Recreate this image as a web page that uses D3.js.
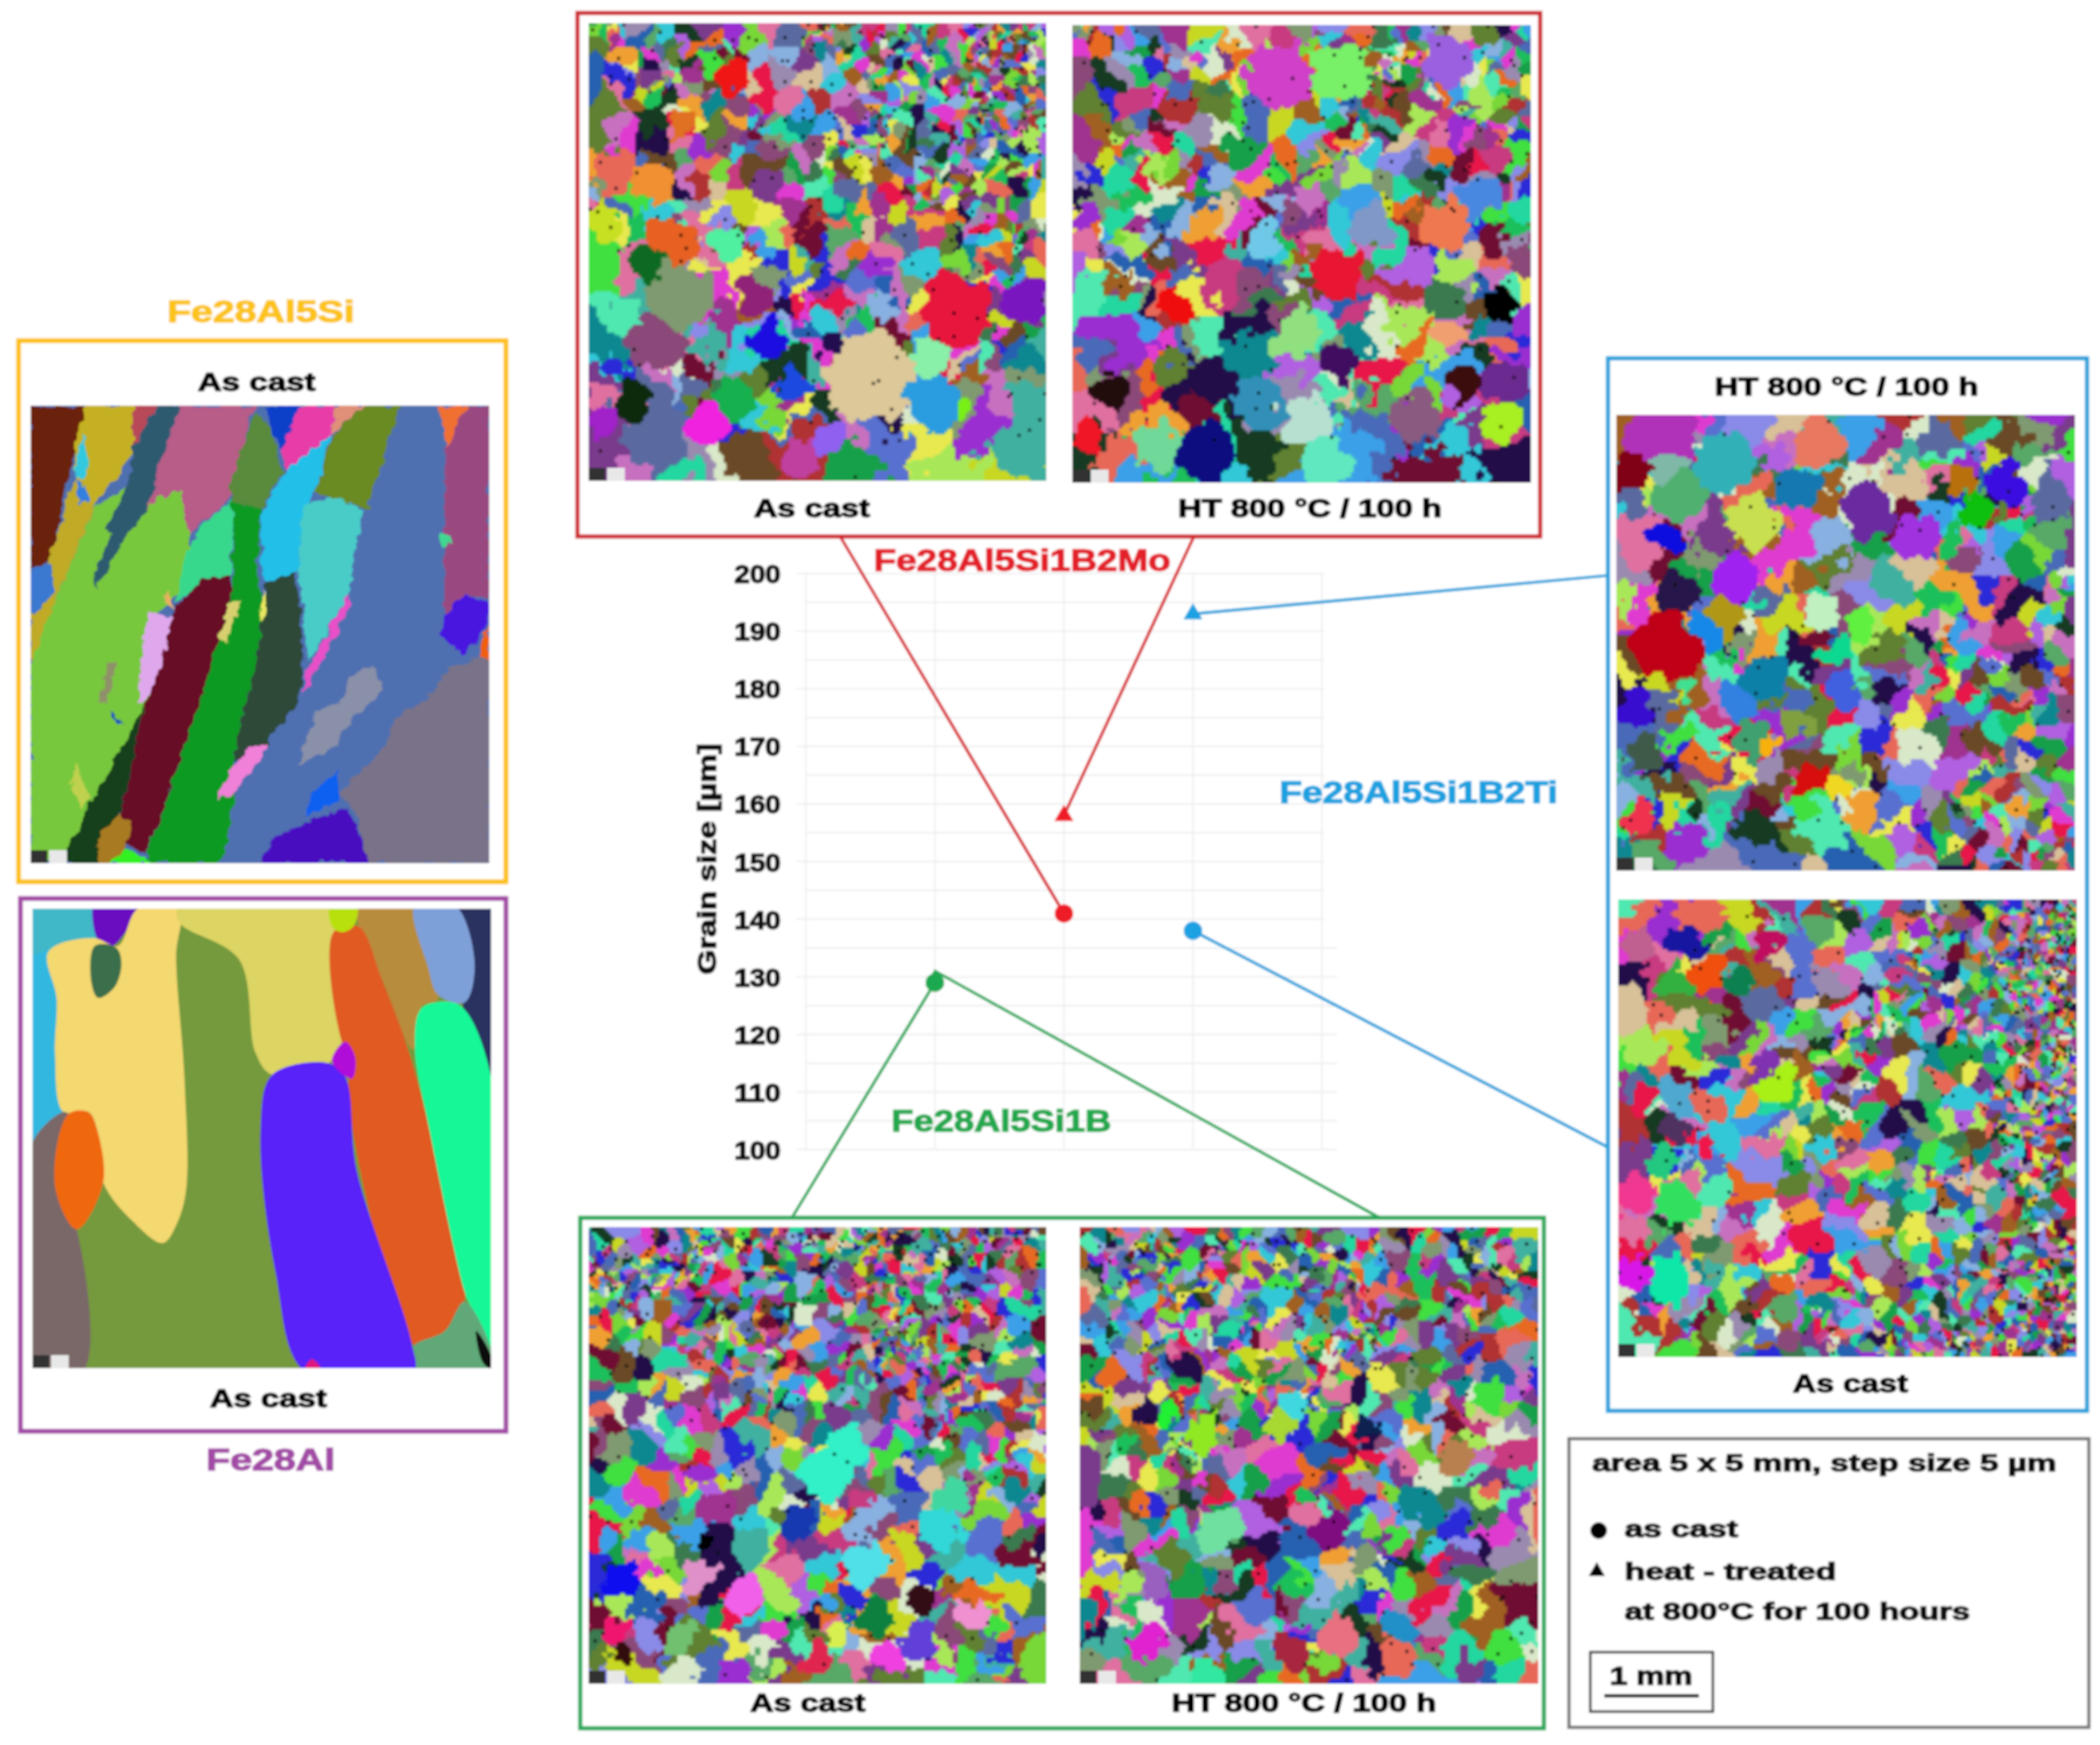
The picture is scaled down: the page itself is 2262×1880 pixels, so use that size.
<!DOCTYPE html>
<html><head><meta charset="utf-8">
<script src="https://cdn.jsdelivr.net/npm/d3@7"></script>
<style>html,body{margin:0;padding:0;background:#fff}svg{display:block}text{font-family:"Liberation Sans",Arial,sans-serif;font-weight:700;stroke-width:1.2px}</style>
</head><body><div id="c"></div>
<script>
// ---------- chart data ----------
const categories = ["", "Fe28Al5Si1B", "Fe28Al5Si1B2Mo", "Fe28Al5Si1B2Ti", ""];
const seriesNames = ["Fe28Al5Si1B", "Fe28Al5Si1B2Mo", "Fe28Al5Si1B2Ti"];
const seriesColors = ["#1fa84f", "#ee1c25", "#1ba1e2"];
const asCastValues = [129, 141, 138];
const heatTreatedValues = [129.5, 158, 193];
const yTicks = [100,110,120,130,140,150,160,170,180,190,200];
const yGrid = [105,115,125,135,145,155,165,175,185,195];

// ---------- grain size fields: typical grain diameter (fraction of map) on a 4x4 grid, read from each map ----------
const sizeMoCast = [[.034,.03,.022,.016],[.05,.035,.025,.02],[.08,.065,.05,.032],[.085,.08,.09,.06]];
const sizeMoHT   = [[.022,.035,.035,.024],[.045,.045,.04,.032],[.065,.065,.06,.055],[.08,.085,.085,.08]];
const sizeBCast  = [[.018,.018,.018,.018],[.028,.028,.026,.024],[.042,.045,.042,.042],[.055,.06,.06,.055]];
const sizeBHT    = [[.022,.022,.022,.022],[.03,.032,.032,.03],[.04,.042,.042,.04],[.05,.055,.055,.05]];
const sizeTiHT   = [[.08,.08,.06,.04],[.08,.07,.05,.035],[.08,.06,.042,.032],[.07,.055,.036,.026]];
const sizeTiCast = [[.06,.045,.03,.01],[.06,.04,.03,.012],[.06,.045,.034,.02],[.05,.038,.02,.009]];

// ---------- recognisable large grains per map: [u, v, radius, colour] ----------
const grainsMoCast = [[.616,.773,.1,"#dcc898"],[.801,.626,.08,"#e8143c"],[.39,.692,.045,"#1a10e0"],[.451,.788,.035,"#1a4ae0"],[.746,.729,.045,"#88f0a8"],[.746,.832,.06,"#2a9ce0"],[.198,.596,.07,"#7f9a70"],[.142,.70,.055,"#8a4a78"],[.15,.906,.07,"#5a6aa0"],[.10,.825,.045,"#0a2a10"],[.266,.877,.05,"#f020e0"],[.314,.825,.045,"#14b050"],[.184,.478,.05,"#e86020"],[.132,.522,.04,"#0e6a20"],[.143,.345,.045,"#f09030"],[.036,.441,.04,"#c8e020"],[.30,.485,.035,"#50f0a0"],[.952,.604,.05,"#7a18c0"],[.534,.70,.03,"#201050"],[.314,.117,.035,"#f01818"],[.033,.862,.04,"#a020c8"],[.812,.843,.03,"#78f018"],[.37,.59,.04,"#902078"],[.47,.95,.05,"#c040a0"],[.53,.90,.04,"#9060f0"],[.20,.22,.025,"#e07020"]];
const grainsMoHT = [[.455,.112,.075,"#d040c8"],[.585,.105,.07,"#78f068"],[.817,.075,.055,"#9a60e0"],[.287,.931,.065,"#0a0a80"],[.407,.813,.06,"#3090b8"],[.575,.533,.055,"#e81830"],[.222,.614,.04,"#f01010"],[.94,.621,.04,"#050505"],[.862,.784,.04,"#3a0810"],[.817,.437,.055,"#f07850"],[.414,.466,.04,"#70c8e8"],[.516,.865,.06,"#b8e0d0"],[.55,.961,.06,"#60e8c0"],[.188,.924,.05,"#70d898"],[.489,.673,.055,"#90e080"],[.585,.739,.04,"#401060"],[.756,.858,.055,"#8a5a80"],[.94,.872,.045,"#a8f020"],[.085,.806,.035,"#200810"],[.044,.90,.035,"#f01828"],[.886,.378,.045,"#4a88e0"],[.817,.666,.035,"#f0a070"],[.653,.437,.05,"#7f98c8"],[.947,.776,.05,"#6a2a90"]];
const grainsBCast = [[.52,.54,.06,"#30f0c8"],[.568,.473,.045,"#30f0c8"],[.07,.776,.04,"#1010f0"],[.602,.739,.05,"#50e0e8"],[.719,.82,.035,"#300818"],[.623,.85,.04,"#0a8040"],[.249,.684,.018,"#000000"],[.767,.665,.045,"#30d8d8"],[.794,.599,.04,"#40d8a0"],[.657,.939,.04,"#f040e0"],[.726,.902,.04,"#6040d8"],[.547,.894,.03,"#d8f050"],[.835,.85,.035,"#f090d0"],[.342,.806,.04,"#f060e8"],[.246,.761,.035,"#e090c8"],[.465,.643,.04,"#1838b0"],[.50,.946,.035,"#e02850"],[.054,.887,.03,"#f01870"],[.074,.939,.03,"#301008"],[.198,.894,.035,"#70c070"]];
const grainsBHT = [[.187,.414,.025,"#20f030"],[.269,.451,.04,"#90e820"],[.31,.658,.05,"#70e0a0"],[.159,.783,.04,"#9a60c0"],[.467,.931,.04,"#a82840"],[.556,.894,.04,"#e87080"],[.283,.983,.04,"#30e8a0"],[.153,.916,.04,"#e020d0"],[.543,.665,.04,"#800880"],[.44,.429,.03,"#a8d830"],[.461,.392,.03,"#40d8e0"],[.625,.443,.03,"#102050"],[.82,.503,.035,"#b88050"],[.70,.879,.04,"#2090c8"]];
const grainsTiHT = [[.097,.05,.08,"#b030b8"],[.237,.103,.07,"#30b0b8"],[.139,.172,.06,"#50b070"],[.11,.103,.05,"#80b8a8"],[.027,.119,.05,"#800018"],[.447,.057,.06,"#e87860"],[.30,.234,.055,"#c8e050"],[.398,.165,.05,"#1878b0"],[.552,.211,.06,"#6a2aa0"],[.657,.272,.05,"#a030e0"],[.132,.395,.05,"#281848"],[.104,.51,.07,"#c00018"],[.258,.364,.06,"#a020f0"],[.11,.272,.035,"#0808e0"],[.195,.479,.035,"#1888e8"],[.237,.448,.04,"#b09818"],[.328,.579,.05,"#1080a8"],[.265,.632,.04,"#3080e0"],[.293,.709,.045,"#40a070"],[.153,.594,.025,"#40e090"],[.426,.80,.035,"#d80808"],[.475,.816,.03,"#f0d820"],[.335,.724,.03,"#f8b010"],[.39,.678,.035,"#80a040"],[.04,.64,.04,"#3808d0"],[.062,.747,.04,"#405a48"],[.048,.885,.04,"#f03050"],[.496,.609,.04,"#4060e0"],[.447,.433,.04,"#c0f0c0"],[.531,.464,.035,"#60f040"],[.475,.517,.035,"#10d890"],[.853,.149,.045,"#3a0ae0"],[.776,.211,.035,"#10c010"],[.762,.149,.03,"#b87010"]];
const grainsTiCast = [[.044,.099,.04,"#c06090"],[.198,.168,.045,"#f05010"],[.149,.092,.035,"#1818a0"],[.121,.183,.035,"#30b040"],[.324,.092,.035,"#c01060"],[.268,.183,.03,"#108050"],[.128,.427,.04,"#50a8d0"],[.345,.405,.04,"#a8f018"],[.107,.824,.055,"#10e8a8"],[.044,.824,.04,"#d818e8"],[.037,.649,.04,"#f03890"],[.128,.672,.05,"#30e060"],[.093,.58,.03,"#20c880"],[.198,.542,.025,"#f01848"],[.121,.496,.03,"#503060"],[.324,.359,.035,"#8030b0"]];
const grainPalette = ["#e8174a","#2a2ad8","#1ec05a","#e03ad0","#3aa0e8","#9a2fd0","#e86a20","#78d838","#20d8a0","#c8d820","#7a3a8c","#c83a80","#58a868","#4a6ab8","#d8c098","#f0a030","#30c8d8","#8a8ae8","#18a048","#a8e858","#701030","#123a20","#c870c0","#5870d0","#50e8b0","#b03030","#e86858","#88b0e0","#a06020","#e8e850","#d8e8c8","#40e040","#b060e0","#e070a0","#108890","#201048","#7f9a70","#8a4a78","#5a6aa0","#3a7a50","#9a8ab0","#608030","#2860b0","#a03090","#40b0a0","#6a4a28"];

// ---------- traced coarse maps: [colour, [x,y]...] in trace units ----------
const si5Trace = [
["#6a2408",[92,325],[262,325],[225,450],[150,720],[92,750]],
["#c4b020",[262,325],[400,325],[405,440],[280,590],[222,530],[230,400]],
["#c0aa28",[222,520],[285,590],[170,810],[100,990],[92,985],[92,860],[150,710]],
["#78c83c",[540,540],[580,600],[570,700],[540,800],[450,880],[450,1090],[400,1180],[210,1498],[92,1498],[92,985],[170,810],[285,590],[400,520],[480,560]],
["#b84a58",[400,325],[480,325],[400,430]],
["#2e5a70",[480,325],[545,325],[480,480],[445,590],[360,690],[290,795],[280,770],[340,650],[320,640],[400,500],[400,430]],
["#b85c88",[545,325],[770,325],[745,380],[700,530],[690,570],[600,630],[570,660],[540,540],[470,570],[445,590],[480,480]],
["#5a8a3a",[770,340],[820,380],[850,500],[790,590],[700,570],[690,540],[720,450]],
["#1040c8",[800,325],[900,325],[880,380],[850,440],[820,380]],
["#e83ca8",[900,325],[1010,325],[1000,400],[860,490],[850,440]],
["#e09078",[1010,325],[1095,325],[1040,370],[1000,400]],
["#6a8a20",[1095,325],[1205,325],[1160,450],[1110,585],[1040,575],[950,550],[1000,410],[1040,370]],
["#20c0e8",[1000,400],[950,550],[910,600],[900,750],[790,780],[790,600],[860,490]],
["#48ccc8",[910,580],[1000,560],[1095,590],[1050,810],[930,980],[900,760]],
["#38d88c",[620,620],[700,570],[695,760],[620,770],[530,830],[560,700]],
["#0f9a20",[700,570],[790,590],[775,750],[790,870],[770,990],[700,1240],[705,1340],[670,1498],[445,1498],[450,1460],[600,1090],[665,900],[700,800]],
["#680a28",[610,770],[690,760],[700,800],[600,1090],[445,1470],[385,1450],[360,1370],[440,1090],[520,850]],
["#12401e",[440,1090],[360,1370],[300,1498],[180,1498],[250,1380]],
["#2e4a38",[800,780],[890,750],[905,850],[915,1000],[900,1080],[800,1200],[700,1240],[770,990],[790,870]],
["#a87a20",[360,1375],[395,1400],[385,1450],[345,1498],[290,1498],[300,1420]],
["#30f020",[330,1498],[380,1460],[460,1498]],
["#e0a8ec",[450,850],[520,870],[480,1010],[430,1090],[415,1090],[430,930]],
["#e850c8",[1050,810],[1055,840],[915,1070],[920,1010]],
["#f080d8",[800,1190],[790,1230],[700,1320],[650,1340],[680,1280],[740,1210]],
["#7a7288",[1475,960],[1350,1000],[1300,1070],[1200,1120],[1130,1230],[1020,1320],[1070,1360],[1110,1498],[1475,1498]],
["#4a10c0",[780,1498],[830,1430],[1040,1355],[1075,1400],[1115,1498]],
["#1060f0",[1020,1265],[1020,1340],[920,1380],[940,1320]],
["#8a90a8",[1120,990],[1160,1050],[1090,1110],[1040,1150],[1010,1200],[900,1250],[950,1110],[1030,1080],[1050,1020]],
["#9a4a80",[1410,325],[1475,325],[1475,820],[1400,810],[1340,860],[1340,600],[1345,430]],
["#4818e0",[1400,810],[1475,830],[1475,880],[1400,970],[1330,910],[1340,860]],
["#f06010",[1475,885],[1475,985],[1440,950]],
["#f07030",[1320,325],[1410,325],[1350,430]],
["#3a78d0",[100,740],[155,735],[165,800],[115,855],[92,850],[92,750]],
["#30c8e0",[250,395],[265,470],[260,520],[220,515],[240,430]],
["#3080e0",[225,520],[260,530],[265,570],[235,580]],
["#d8d070",[690,830],[730,825],[680,935],[660,915],[680,860]],
["#e8e860",[790,800],[805,830],[790,880],[780,860]],
["#c0d050",[230,1240],[270,1340],[240,1360],[215,1290]],
["#90906a",[320,980],[350,985],[320,1090],[300,1085]],
["#e8b060",[510,800],[525,850],[490,825]],
["#40d890",[1330,640],[1365,675],[1335,690],[1320,665]],
["#1048c0",[330,1105],[370,1140],[355,1135],[335,1120]]
];
const alTrace = [
["#30b8e0",[90,170],[150,165],[175,400],[200,590],[90,690]],
["#40b8c8",[90,60],[290,60],[290,145],[150,175],[90,185]],
["#6a10c0",[285,60],[415,60],[360,150],[330,168],[295,150],[280,110]],
["#f4d870",[415,70],[540,70],[530,190],[555,500],[560,790],[530,880],[490,925],[400,870],[310,770],[290,630],[265,590],[190,590],[165,440],[170,300],[145,180],[280,145],[355,165]],
["#3a6e4c",[285,165],[350,170],[365,210],[345,270],[295,298],[275,260]],
["#dcd464",[540,60],[1010,60],[1005,200],[1030,410],[990,465],[820,495],[770,440],[720,200],[540,105]],
["#b88c3c",[1080,60],[1250,60],[1320,300],[1270,320],[1245,430],[1150,250],[1080,115]],
["#e05a20",[1005,130],[1080,115],[1150,250],[1230,430],[1290,620],[1400,1070],[1340,1150],[1260,1190],[1240,1180],[1120,870],[1050,510],[1070,470],[1030,410]],
["#b8e010",[995,60],[1075,60],[1065,115],[1030,130],[1000,115]],
["#2a3060",[1370,60],[1490,60],[1490,540],[1395,320],[1430,210]],
["#7ea0d8",[1250,60],[1370,60],[1430,210],[1400,310],[1320,290],[1290,220]],
["#18f898",[1310,310],[1390,320],[1490,540],[1490,1200],[1420,1090],[1400,1050],[1290,620],[1250,430],[1265,330]],
["#60a878",[1400,1075],[1490,1220],[1490,1255],[1245,1255],[1245,1190],[1340,1150]],
["#080808",[1435,1150],[1478,1210],[1478,1245],[1455,1230]],
["#5820f8",[820,495],[990,465],[1040,500],[1075,740],[1240,1180],[1245,1255],[920,1255],[830,1000],[785,640]],
["#b010d8",[1040,410],[1070,450],[1060,505],[1000,460]],
["#7a6868",[90,680],[190,590],[205,595],[165,780],[230,890],[248,1255],[90,1255]],
["#f06810",[205,595],[265,590],[290,630],[310,770],[230,890],[165,780]],
["#e01880",[920,1245],[940,1222],[965,1245]]
];

// ---------- layout ----------
const W = 2262, H = 1880;
const svg = d3.select("#c").append("svg").attr("width", W).attr("height", H).attr("viewBox", `0 0 ${W} ${H}`);
const defs = svg.append("defs");
defs.append("filter").attr("id","soft").attr("filterUnits","userSpaceOnUse")
  .attr("x",0).attr("y",0).attr("width",W).attr("height",H)
  .append("feGaussianBlur").attr("stdDeviation",0.8);
const jag = defs.append("filter").attr("id","jag").attr("filterUnits","userSpaceOnUse")
  .attr("x",0).attr("y",0).attr("width",W).attr("height",H);
jag.append("feTurbulence").attr("type","fractalNoise").attr("baseFrequency",0.09).attr("numOctaves",2).attr("seed",4).attr("result","n");
jag.append("feDisplacementMap").attr("in","SourceGraphic").attr("in2","n").attr("scale",11).attr("xChannelSelector","R").attr("yChannelSelector","G");
defs.append("clipPath").attr("id","clipSi").append("rect").attr("x",33).attr("y",437).attr("width",494).attr("height",493);
defs.append("clipPath").attr("id","clipAl").append("rect").attr("x",35).attr("y",979).attr("width",494).attr("height",495);

const root = svg.append("g").attr("filter","url(#soft)");
root.append("rect").attr("width",W).attr("height",H).attr("fill","#fff");

const x = d3.scalePoint().domain(d3.range(categories.length)).range([868,1424]);
const y = d3.scaleLinear().domain([100,200]).range([1238.6,618]);

function label(g, txt, x0, x1, base, size, color){
  const c=color||"#000";
  return g.append("text").attr("x",x0).attr("y",base).attr("font-size",size).attr("fill",c).attr("stroke",c)
    .attr("textLength",x1-x0).attr("lengthAdjust","spacingAndGlyphs").text(txt);
}

// ---------- chart ----------
const chart = root.append("g");
const gridG = chart.append("g").attr("stroke","#ececec").attr("stroke-width",1.5);
gridG.selectAll("line.h").data(yTicks.concat(yGrid)).join("line")
  .attr("x1",d=>yTicks.includes(d)?858:868).attr("x2",d=>d<=135?1440:1426).attr("y1",y).attr("y2",y);
gridG.selectAll("line.v").data(d3.range(categories.length)).join("line")
  .attr("x1",d=>x(d)).attr("x2",d=>x(d)).attr("y1",y(200)).attr("y2",y(100));
const axis = chart.append("g").attr("transform","translate(849,0)")
  .call(d3.axisLeft(y).tickValues(yTicks).tickSize(0).tickPadding(8));
axis.select(".domain").remove();
axis.selectAll("text").attr("font-size",27).attr("fill","#111").attr("stroke","#111").attr("dy","0.36em")
  .attr("textLength",50).attr("lengthAdjust","spacingAndGlyphs");
chart.append("text").attr("transform","translate(771,1050) rotate(-90)").attr("font-size",28).attr("fill","#111").attr("stroke","#111")
  .attr("textLength",249).attr("lengthAdjust","spacingAndGlyphs").text("Grain size [µm]");

// ---------- panel frames ----------
const frames = [
  {c:"#fdc00f",x0:20,y0:367,x1:545,y1:950,w:5},
  {c:"#a24ca6",x0:22,y0:968,x1:545,y1:1542,w:5},
  {c:"#cf2a32",x0:622,y0:14,x1:1659,y1:578,w:4.5},
  {c:"#27a95a",x0:625,y0:1312,x1:1663,y1:1862,w:4.5},
  {c:"#2ba3dc",x0:1732,y0:386,x1:2248,y1:1520,w:4.5}
];
root.append("g").selectAll("rect").data(frames).join("rect")
  .attr("x",d=>d.x0).attr("y",d=>d.y0).attr("width",d=>d.x1-d.x0).attr("height",d=>d.y1-d.y0)
  .attr("fill","none").attr("stroke",d=>d.c).attr("stroke-width",d=>d.w);

// ---------- grain map rendering ----------
const frac = v => v - Math.floor(v);
const hash = i => frac(Math.sin(i*12.9898+4.1414)*43758.5453);
const smooth = t => t*t*(3-2*t);
function vnoise(u,v,f,salt){
  const a=u*f,b=v*f,i=Math.floor(a),j=Math.floor(b),s=smooth(a-i),t=smooth(b-j);
  const h=(p,q)=>hash(p*57.3+q*131.7+salt*17.1);
  const top=h(i,j)+(h(i+1,j)-h(i,j))*s, bot=h(i,j+1)+(h(i+1,j+1)-h(i,j+1))*s;
  return top+(bot-top)*t;
}
function sizeAt(g,u,v){
  const a=Math.min(u*3,2.999), b=Math.min(v*3,2.999), i=Math.floor(a), j=Math.floor(b), s=a-i, t=b-j;
  const top=g[j][i]+(g[j][i+1]-g[j][i])*s, bot=g[j+1][i]+(g[j+1][i+1]-g[j+1][i])*s;
  return top+(bot-top)*t;
}
function grainImage(sizes, feats, salt){
  const R=176, cv=document.createElement("canvas"); cv.width=cv.height=R;
  const ctx=cv.getContext("2d"), img=ctx.createImageData(R,R);
  const seeds=[];
  for(let i=0;i<18000;i++){
    const u=hash(i*3+salt), v=hash(i*3+1+salt), a=hash(i*3+2+salt);
    const s=sizeAt(sizes,u,v)*(.62+.8*vnoise(u,v,8,salt+1));
    if(a < Math.pow(0.0075/s,2)){
      seeds.push([u,v,d3.rgb(grainPalette[Math.floor(hash(i*7+salt+9)*grainPalette.length)])]);
    }
  }
  const del=d3.Delaunay.from(seeds,d=>d[0],d=>d[1]);
  const fl=feats.map(f=>[f[0],f[1],f[2],d3.rgb(f[3])]);
  let j=0;
  for(let py=0;py<R;py++)for(let px=0;px<R;px++){
    const u=(px+.5)/R, v=(py+.5)/R, s=sizeAt(sizes,u,v), am=s*.6;
    const wu=u+am*((vnoise(u,v,24,salt+2)-.5)*1.6+(vnoise(u,v,62,salt+3)-.5)*.9);
    const wv=v+am*((vnoise(u,v,24,salt+4)-.5)*1.6+(vnoise(u,v,62,salt+5)-.5)*.9);
    const fwu=u+.018*(vnoise(u,v,30,salt+6)-.5)*2+.009*(vnoise(u,v,70,salt+7)-.5)*2;
    const fwv=v+.018*(vnoise(u,v,30,salt+8)-.5)*2+.009*(vnoise(u,v,70,salt+9)-.5)*2;
    let c=null, best=1;
    for(const f of fl){
      const dx=fwu-f[0], dy=fwv-f[1];
      const d=Math.hypot(dx,dy)/f[2];
      if(d<best){best=d;c=f[3];}
    }
    if(!c){ j=del.find(wu,wv,j); c=seeds[j][2]; }
    const k=(py*R+px)*4;
    img.data[k]=c.r; img.data[k+1]=c.g; img.data[k+2]=c.b; img.data[k+3]=255;
  }
  ctx.putImageData(img,0,0);
  ctx.fillStyle="#050505";
  for(let i=0;i<2800;i++){
    const u=hash(i*5+salt+3), v=hash(i*5+salt+4), a=hash(i*5+salt+5), s=sizeAt(sizes,u,v);
    if(a<Math.pow(.012/s,1.7)*.4){ ctx.fillRect(Math.floor(u*R),Math.floor(v*R),1,1); }
  }
  return cv.toDataURL();
}
const mapPanels = [
  {x0:634,x1:1127,y0:25,y1:518,sizes:sizeMoCast,feats:grainsMoCast,salt:11},
  {x0:1155,x1:1649,y0:27,y1:520,sizes:sizeMoHT,feats:grainsMoHT,salt:23},
  {x0:634,x1:1127,y0:1322,y1:1814,sizes:sizeBCast,feats:grainsBCast,salt:37},
  {x0:1163,x1:1657,y0:1322,y1:1814,sizes:sizeBHT,feats:grainsBHT,salt:51},
  {x0:1741,x1:2235,y0:447,y1:938,sizes:sizeTiHT,feats:grainsTiHT,salt:67},
  {x0:1743,x1:2237,y0:969,y1:1462,sizes:sizeTiCast,feats:grainsTiCast,salt:83}
];
const mapG = root.append("g");
mapPanels.forEach(p=>{
  mapG.append("image").attr("x",p.x0).attr("y",p.y0).attr("width",p.x1-p.x0).attr("height",p.y1-p.y0)
    .attr("preserveAspectRatio","none").attr("href",grainImage(p.sizes,p.feats,p.salt));
});

// coarse traced maps
function tracedMap(trace, base, dom, px, clip, opts){
  const outer=root.append("g").attr("clip-path",`url(#${clip})`);
  const g=outer.append("g");
  if(opts.filter) g.attr("filter",opts.filter);
  const sx=d3.scaleLinear().domain(dom.x).range(px.x), sy=d3.scaleLinear().domain(dom.y).range(px.y);
  g.append("rect").attr("x",px.x[0]-10).attr("y",px.y[0]-10).attr("width",px.x[1]-px.x[0]+20).attr("height",px.y[1]-px.y[0]+20).attr("fill",base);
  const line=d3.line().x(d=>sx(d[0])).y(d=>sy(d[1])).curve(opts.curve);
  g.selectAll("path").data(trace).join("path").attr("d",d=>line(d.slice(1))).attr("fill",d=>d[0]);
}
tracedMap(si5Trace,"#4f70b0",{x:[92,1475],y:[325,1498]},{x:[33,527],y:[437,930]},"clipSi",{filter:"url(#jag)",curve:d3.curveLinearClosed});
tracedMap(alTrace,"#749a3c",{x:[97,1480],y:[70,1245]},{x:[35,529],y:[979,1474]},"clipAl",{curve:d3.curveCatmullRomClosed.alpha(0.5)});

// stamp boxes at map corners
const stamps=[[634,518],[1155,520],[634,1814],[1163,1814],[1741,938],[1743,1462],[33,930],[35,1474]];
const stampG=root.append("g");
stampG.selectAll("rect.d").data(stamps).join("rect").attr("class","d").attr("x",d=>d[0]).attr("y",d=>d[1]-14).attr("width",18).attr("height",14).attr("fill","#333");
stampG.selectAll("rect.w").data(stamps).join("rect").attr("class","w").attr("x",d=>d[0]+20).attr("y",d=>d[1]-14).attr("width",19).attr("height",14).attr("fill","#e8e8e8");

// ---------- panel labels ----------
const textG=root.append("g");
label(textG,"Fe28Al5Si",180,382,347,34,"#fcc31a");
label(textG,"As cast",213,340,421,28);
label(textG,"As cast",226,352,1516,28);
label(textG,"Fe28Al",222,361,1584,34,"#a24ca6");
label(textG,"As cast",812,937,557,28);
label(textG,"HT 800 °C / 100 h",1269,1553,557,28);
label(textG,"As cast",808,932,1844,28);
label(textG,"HT 800 °C / 100 h",1262,1547,1844,28);
label(textG,"HT 800 °C / 100 h",1847,2131,426,28);
label(textG,"As cast",1931,2055,1500,28);
label(textG,seriesNames[1],941,1261,615,34,"#e3202c");
label(textG,seriesNames[0],960,1197,1219,34,"#22a84e");
label(textG,seriesNames[2],1378,1678,865,34,"#1ba1e0");

// ---------- connectors and markers ----------
const connG=root.append("g").attr("fill","none").attr("stroke-width",3.2);
const connectors=[
  {s:1,v:asCastValues[1],from:[905,578]},
  {s:1,v:heatTreatedValues[1],from:[1286,578]},
  {s:2,v:heatTreatedValues[2],from:[1732,620]},
  {s:2,v:asCastValues[2],from:[1732,1236]},
  {s:0,v:asCastValues[0],from:[853,1312]},
  {s:0,v:heatTreatedValues[0]+1.5,from:[1486,1312]}
];
connG.selectAll("line").data(connectors).join("line")
  .attr("x1",d=>d.from[0]).attr("y1",d=>d.from[1])
  .attr("x2",d=>x(d.s+1)).attr("y2",d=>y(d.v))
  .attr("stroke",d=>d.s===1?"#d8232a":(d.s===2?"#2ba3dc":"#27a95a"));
const markG=root.append("g");
const tri=d3.symbol().type(d3.symbolTriangle).size(180);
markG.selectAll("path.t").data(heatTreatedValues).join("path")
  .attr("d",tri).attr("transform",(d,i)=>`translate(${x(i+1)},${y(d)})`).attr("fill",(d,i)=>seriesColors[i]);
markG.selectAll("circle").data(asCastValues).join("circle")
  .attr("cx",(d,i)=>x(i+1)).attr("cy",d=>y(d)).attr("r",10).attr("fill",(d,i)=>seriesColors[i]);

// ---------- legend box ----------
const leg=root.append("g");
leg.append("rect").attr("x",1690).attr("y",1550).attr("width",560).attr("height",311).attr("fill","none").attr("stroke","#777").attr("stroke-width",3.5);
label(leg,"area 5 x 5 mm, step size 5 µm",1715,2215,1585,25,"#111");
leg.append("circle").attr("cx",1722).attr("cy",1649).attr("r",9).attr("fill","#000");
label(leg,"as cast",1750,1872,1656,25,"#111");
leg.append("path").attr("d",d3.symbol().type(d3.symbolTriangle).size(130)).attr("transform","translate(1720,1693)").attr("fill","#000");
label(leg,"heat - treated",1750,1978,1702,25,"#111");
label(leg,"at 800°C for 100 hours",1750,2122,1745,25,"#111");
leg.append("rect").attr("x",1713).attr("y",1780).attr("width",132).attr("height",64).attr("fill","none").attr("stroke","#222").attr("stroke-width",2.5);
label(leg,"1 mm",1734,1823,1815,27,"#111");
leg.append("line").attr("x1",1728).attr("x2",1830).attr("y1",1827).attr("y2",1827).attr("stroke","#111").attr("stroke-width",3.5);
</script></body></html>
